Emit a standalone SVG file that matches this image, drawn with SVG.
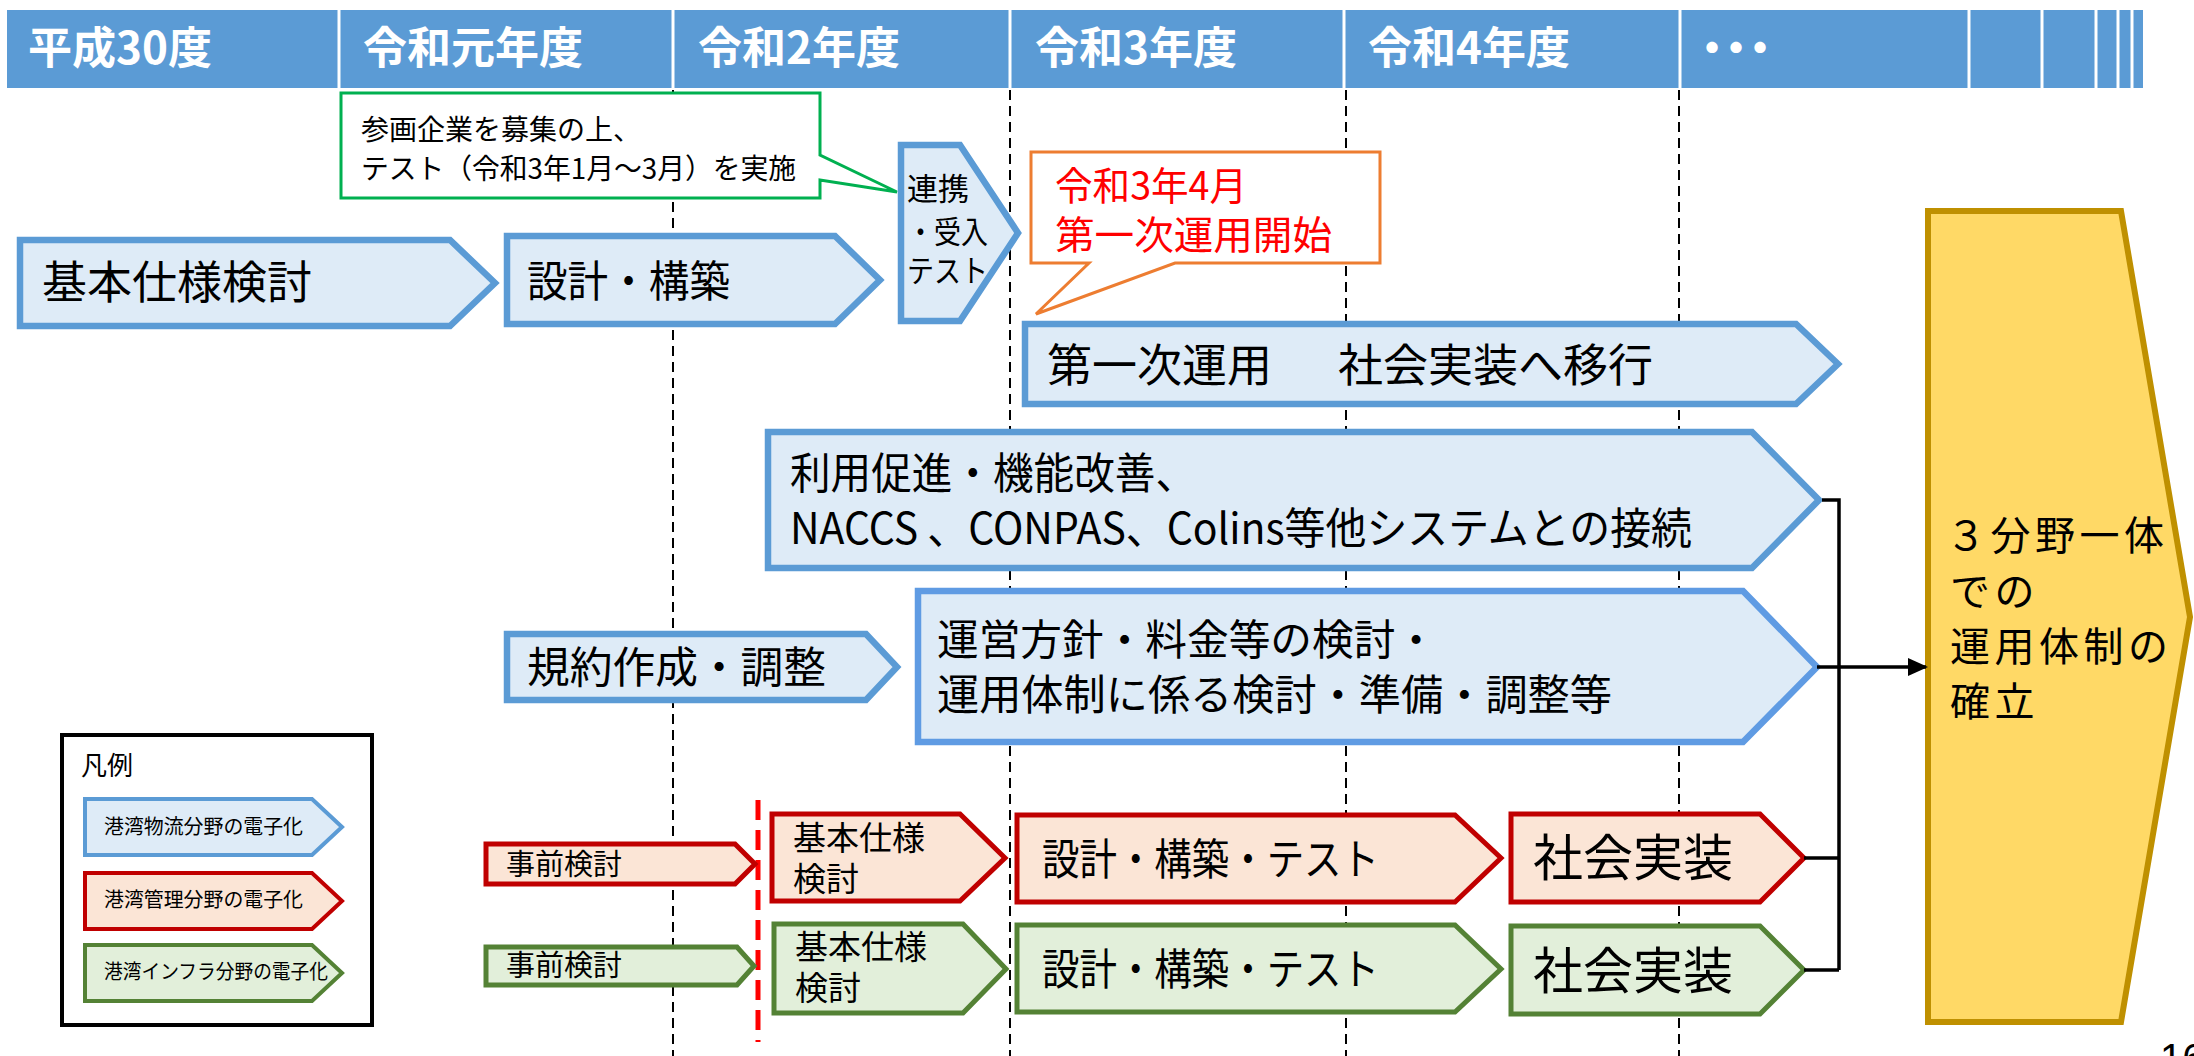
<svg xmlns="http://www.w3.org/2000/svg" width="2194" height="1056" viewBox="0 0 2194 1056">
<style>
text{font-family:"Noto Sans CJK JP","Noto Sans",sans-serif;fill:#000}
.hd{font-size:44px;font-weight:700;fill:#fff}
.sep{stroke:#fff;stroke-width:3}
.vd{stroke:#000;stroke-width:2;stroke-dasharray:10 6;fill:none}
.bl{fill:#DEEBF7;stroke:#5B9BD5;stroke-width:6.5;stroke-linejoin:miter}
.rd{fill:#FBE5D6;stroke:#C00000;stroke-width:5}
.gr{fill:#E2EFDA;stroke:#548235;stroke-width:5}
.lb{stroke-width:4}
.conn{stroke:#000;stroke-width:3.5;fill:none}
</style>
<defs>
<marker id="ah" markerUnits="userSpaceOnUse" markerWidth="20" markerHeight="18" refX="18" refY="9" orient="auto">
<path d="M0,0 L20,9 L0,18 Z" fill="#000"/>
</marker>
</defs>
<g id="header">
<rect x="7" y="10" width="2136" height="78" fill="#5B9BD5"/>
<line class="sep" x1="339" y1="10" x2="339" y2="88"/>
<line class="sep" x1="673" y1="10" x2="673" y2="88"/>
<line class="sep" x1="1010" y1="10" x2="1010" y2="88"/>
<line class="sep" x1="1344" y1="10" x2="1344" y2="88"/>
<line class="sep" x1="1680" y1="10" x2="1680" y2="88"/>
<line class="sep" x1="1969" y1="10" x2="1969" y2="88"/>
<line class="sep" x1="2042" y1="10" x2="2042" y2="88"/>
<line class="sep" x1="2096" y1="10" x2="2096" y2="88"/>
<line class="sep" x1="2118" y1="10" x2="2118" y2="88"/>
<line class="sep" x1="2132" y1="10" x2="2132" y2="88"/>
<text class="hd" x="28" y="64">平成30度</text>
<text class="hd" x="363" y="64">令和元年度</text>
<text class="hd" x="698" y="64">令和2年度</text>
<text class="hd" x="1035" y="64">令和3年度</text>
<text class="hd" x="1368" y="64">令和4年度</text>
<text class="hd" x="1690" y="64" letter-spacing="-20">・・・</text>
</g>
<g id="gridlines">
<line class="vd" x1="673" y1="90" x2="673" y2="1056"/>
<line class="vd" x1="1010" y1="90" x2="1010" y2="1056"/>
<line class="vd" x1="1346" y1="90" x2="1346" y2="1056"/>
<line class="vd" x1="1679" y1="90" x2="1679" y2="1056"/>
<line x1="758" y1="800" x2="758" y2="1042" stroke="#FF0000" stroke-width="5" stroke-dasharray="20 10"/>
</g>
<g id="callout-test">
<path d="M341,93 H820 V155 L897,192 L820,180 V198 H341 Z" fill="#fff" stroke="#00B050" stroke-width="3"/>
<text font-size="28"><tspan x="361" y="140">参画企業を募集の上、</tspan><tspan x="361" y="179" textLength="435" lengthAdjust="spacingAndGlyphs">テスト（令和3年1月～3月）を実施</tspan></text>
</g>
<g id="n-kihon">
<polygon class="bl" points="20,240 450,240 495,283 450,326 20,326"/>
<text x="42" y="299" font-size="45">基本仕様検討</text>
</g>
<g id="n-sekkei">
<polygon class="bl" points="507,236 835,236 880,280 835,324 507,324"/>
<text x="527" y="297" font-size="43" textLength="203" lengthAdjust="spacingAndGlyphs">設計・構築</text>
</g>
<g id="n-renkei">
<polygon class="bl" points="901,145 960,145 1018,233 960,321 901,321"/>
<text font-size="31"><tspan x="907" y="200">連携</tspan><tspan x="907" y="243" textLength="81" lengthAdjust="spacingAndGlyphs">・受入</tspan><tspan x="907" y="282" textLength="81" lengthAdjust="spacingAndGlyphs">テスト</tspan></text>
</g>
<g id="callout-start">
<path d="M1031,152 H1380 V263 H1175 L1036,314 L1089,263 H1031 Z" fill="#fff" stroke="#ED7D31" stroke-width="3"/>
<text font-size="39" style="fill:#FF0000"><tspan x="1055" y="200" textLength="192" lengthAdjust="spacingAndGlyphs">令和3年4月</tspan><tspan x="1055" y="249" textLength="277" lengthAdjust="spacingAndGlyphs">第一次運用開始</tspan></text>
</g>
<g id="n-unyo1">
<polygon class="bl" points="1025,324 1796,324 1838,364 1796,404 1025,404"/>
<text y="382" font-size="45"><tspan x="1047">第一次運用</tspan><tspan x="1338">社会実装へ移行</tspan></text>
</g>
<g id="n-riyo">
<polygon class="bl" points="768,432 1752,432 1819,500 1752,568 768,568"/>
<text font-size="43"><tspan x="790" y="489" textLength="406" lengthAdjust="spacingAndGlyphs">利用促進・機能改善、</tspan><tspan x="790" y="544" textLength="902" lengthAdjust="spacingAndGlyphs">NACCS 、CONPAS、Colins等他システムとの接続</tspan></text>
</g>
<g id="n-kiyaku">
<polygon class="bl" points="507,634 866,634 897,667 866,700 507,700"/>
<text x="527" y="683" font-size="43" textLength="299" lengthAdjust="spacingAndGlyphs">規約作成・調整</text>
</g>
<g id="n-unei">
<polygon class="bl" points="918,591 1743,591 1817,667 1743,742 918,742" style="stroke:#5F9BE3"/>
<text font-size="42"><tspan x="937" y="655" textLength="500" lengthAdjust="spacingAndGlyphs">運営方針・料金等の検討・</tspan><tspan x="937" y="710" textLength="675" lengthAdjust="spacingAndGlyphs">運用体制に係る検討・準備・調整等</tspan></text>
</g>
<g id="legend">
<rect x="62" y="735" width="310" height="290" fill="#fff" stroke="#000" stroke-width="4"/>
<text x="81" y="775" font-size="26">凡例</text>
<polygon class="bl lb" points="85,799 312,799 342,827 312,855 85,855" style="stroke-width:4"/>
<text x="104" y="834" font-size="20" textLength="199" lengthAdjust="spacingAndGlyphs">港湾物流分野の電子化</text>
<polygon class="rd lb" points="85,873 312,873 342,901 312,929 85,929"/>
<text x="104" y="907" font-size="20" textLength="199" lengthAdjust="spacingAndGlyphs">港湾管理分野の電子化</text>
<polygon class="gr lb" points="85,945 312,945 342,973 312,1001 85,1001"/>
<text x="104" y="979" font-size="20" textLength="224" lengthAdjust="spacingAndGlyphs">港湾インフラ分野の電子化</text>
</g>
<g id="r-jizen">
<polygon class="rd" points="486,844 735,844 755,864 735,884 486,884"/>
<text x="506" y="875" font-size="29">事前検討</text>
</g>
<g id="r-kihon">
<polygon class="rd" points="772,814 960,814 1005,858 960,901 772,901"/>
<text font-size="33"><tspan x="793" y="850">基本仕様</tspan><tspan x="793" y="891">検討</tspan></text>
</g>
<g id="r-sekkei">
<polygon class="rd" points="1017,815 1455,815 1501,858 1455,902 1017,902"/>
<text x="1042" y="875" font-size="43" textLength="337" lengthAdjust="spacingAndGlyphs">設計・構築・テスト</text>
</g>
<g id="r-shakai">
<polygon class="rd" points="1511,814 1760,814 1804,858 1760,902 1511,902"/>
<text x="1533" y="876" font-size="50">社会実装</text>
</g>
<g id="g-jizen">
<polygon class="gr" points="486,947 737,947 754,966 737,985 486,985"/>
<text x="506" y="976" font-size="29">事前検討</text>
</g>
<g id="g-kihon">
<polygon class="gr" points="774,924 963,924 1006,969 963,1013 774,1013"/>
<text font-size="33"><tspan x="795" y="959">基本仕様</tspan><tspan x="795" y="1000">検討</tspan></text>
</g>
<g id="g-sekkei">
<polygon class="gr" points="1017,925 1455,925 1501,969 1455,1012 1017,1012"/>
<text x="1042" y="985" font-size="43" textLength="337" lengthAdjust="spacingAndGlyphs">設計・構築・テスト</text>
</g>
<g id="g-shakai">
<polygon class="gr" points="1511,926 1760,926 1804,970 1760,1014 1511,1014"/>
<text x="1533" y="989" font-size="50">社会実装</text>
</g>
<g id="goal">
<polygon points="1928,211 2121,211 2190,617 2121,1022 1928,1022" fill="#FFD966" stroke="#BF9000" stroke-width="6"/>
<text font-size="40" letter-spacing="4.5"><tspan x="1946" y="550">３分野一体</tspan><tspan x="1950" y="606">での</tspan><tspan x="1950" y="661">運用体制の</tspan><tspan x="1950" y="716">確立</tspan></text>
</g>
<g id="connectors">
<path class="conn" d="M1822,500 H1839 V970"/>
<path class="conn" d="M1804,858 H1839"/>
<path class="conn" d="M1804,970 H1839"/>
<path class="conn" d="M1817,667 H1926" marker-end="url(#ah)"/>
</g>
<text x="2160" y="1072" font-size="40" style="font-family:'Liberation Sans',sans-serif">16</text>
</svg>
